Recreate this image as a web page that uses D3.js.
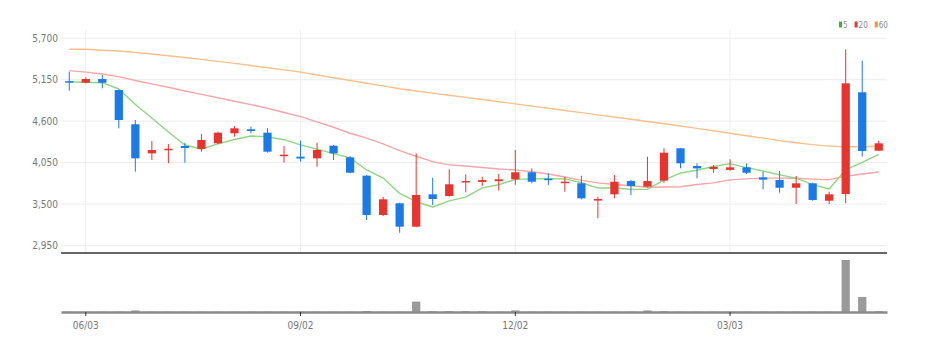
<!DOCTYPE html>
<html>
<head>
<meta charset="utf-8">
<script src="https://cdn.jsdelivr.net/npm/d3@7"></script>
<style>
  html, body { margin: 0; padding: 0; background: #fff; }
  svg { display: block; font-family: "Liberation Sans Narrow", "DejaVu Sans Condensed", "Roboto", sans-serif; }
</style>
</head>
<body>
<svg id="chart" width="928" height="351"></svg>
<script>
// weekly candles, 2024-05-27 .. 2025-05-05
const weeks = ["05/27","06/03","06/10","06/17","06/24","07/01","07/08","07/15","07/22","07/29",
  "08/05","08/12","08/19","08/26","09/02","09/09","09/16","09/23","09/30","10/07",
  "10/14","10/21","10/28","11/04","11/11","11/18","11/25","12/02","12/09","12/16",
  "12/23","12/30","01/06","01/13","01/20","01/27","02/03","02/10","02/17","02/24",
  "03/03","03/10","03/17","03/24","03/31","04/07","04/14","04/21","04/28","05/05"];
const tickWeeks = ["06/03", "09/02", "12/02", "03/03"];
const priceTicks = [2950, 3500, 4050, 4600, 5150, 5700];

const open = [5130,5110,5159,5013,4559,4174,4225,4271,4232,4307,4440,4493,4448,4140,4130,4108,4275,4121,3878,3357,
  3512,3202,3631,3609,3790,3795,3805,3830,3923,3838,3780,3777,3548,3631,3807,3732,3812,4241,4006,3965,
  3955,3989,3856,3821,3718,3777,3546,3635,4983,4209];
const high = [5256,5182,5212,5020,4616,4338,4298,4315,4430,4461,4536,4527,4506,4271,4342,4315,4284,4139,3887,3599,
  3520,4174,3851,3962,3896,3864,3900,4218,3975,3909,3864,3878,3599,3887,3821,4130,4241,4241,4042,4019,
  4095,4042,3931,3940,3874,3785,3666,5553,5402,4342];
const low = [5004,5102,5036,4506,3931,4086,4042,4050,4196,4298,4394,4440,4183,4050,4063,3997,4086,3909,3290,3343,
  3122,3194,3489,3599,3657,3741,3679,3759,3777,3755,3666,3565,3313,3578,3622,3724,3785,3975,3843,3917,
  3944,3900,3697,3652,3503,3546,3503,3512,4130,4205];
const close = [5115,5159,5110,4616,4108,4218,4235,4245,4351,4448,4506,4470,4196,4156,4105,4218,4174,3917,3357,3565,
  3202,3622,3569,3764,3807,3820,3830,3923,3798,3825,3798,3578,3569,3798,3741,3807,4183,4042,3975,3995,
  3989,3917,3825,3718,3777,3556,3631,5102,4205,4307];
const volume = [0.5,0.5,0.5,0.5,3,0.5,0.5,0.5,0.5,0.5,0.5,0.5,0.5,0.5,0.5,0.5,0.5,0.5,2,0.5,
  0.5,20,1.5,1.5,1.5,1.5,0.5,3,0.5,0.5,0.5,0.5,0.5,0.5,0.5,3,1.5,0.5,0.5,0.5,
  0.5,0.5,0.5,0.5,0.5,0.5,0.5,100,29,1.5];

// moving averages as drawn
const ma5 = [5123,5116,5110,5027,4822,4642,4457,4284,4231,4299,4357,4404,4394,4355,4287,4229,4170,4114,3954,3846,
  3643,3533,3463,3544,3593,3716,3758,3829,3836,3839,3835,3784,3714,3714,3697,3699,3820,3914,3950,4000,
  4037,3984,3940,3889,3845,3759,3701,3957,4054,4160];
const ma20 = [5270,5250,5225,5190,5140,5095,5050,5000,4955,4910,4865,4820,4771,4715,4660,4590,4520,4440,4375,4300,
  4210,4135,4064,4021,4006,3986,3966,3955,3930,3900,3860,3815,3782,3762,3744,3725,3728,3732,3761,3782,
  3822,3836,3845,3845,3843,3832,3825,3870,3900,3926];
const ma60 = [5553,5553,5540,5530,5512,5490,5468,5445,5420,5393,5366,5338,5308,5280,5250,5212,5175,5140,5103,5068,
  5030,5000,4972,4944,4916,4887,4858,4830,4800,4772,4742,4713,4684,4655,4625,4596,4566,4536,4505,4473,
  4441,4408,4375,4343,4315,4290,4270,4262,4262,4268];

const UP = "#e8342f", DOWN = "#1c7ae6";
const maSeries = [
  { name: "5", values: ma5, line: "#8ed683", key: "#35b535" },
  { name: "20", values: ma20, line: "#f5a6a6", key: "#e8342f" },
  { name: "60", values: ma60, line: "#f9c08e", key: "#f39332" },
];

const svg = d3.select("#chart");
const plot = { left: 61, right: 887, top: 30, sep: 253, bottom: 312 };
const idx = d3.range(weeks.length);

const x = d3.scaleBand().domain(idx).range([plot.left, plot.right]).paddingInner(0.5).paddingOuter(0.25);
const cx = (i) => x(i) + x.bandwidth() / 2;
const y = d3.scaleLinear().domain([2950, 5700]).range([245.7, 38.2]);
const yVol = d3.scaleLinear().domain([0, 100]).range([plot.bottom, 260]);

// grid
svg.append("g").selectAll("line").data(priceTicks).join("line")
  .attr("x1", plot.left).attr("x2", plot.right)
  .attr("y1", (d) => y(d)).attr("y2", (d) => y(d))
  .attr("stroke", "#ececec").attr("stroke-width", 1);

svg.append("g").selectAll("line").data(tickWeeks).join("line")
  .attr("x1", (d) => cx(weeks.indexOf(d))).attr("x2", (d) => cx(weeks.indexOf(d)))
  .attr("y1", plot.top).attr("y2", plot.sep)
  .attr("stroke", "#eeeeee").attr("stroke-width", 1);

// y labels
svg.append("g").selectAll("text").data(priceTicks).join("text")
  .attr("x", 58).attr("y", (d) => y(d)).attr("dy", "0.35em")
  .attr("text-anchor", "end").attr("font-size", 10).attr("fill", "#777")
  .text((d) => d3.format(",")(d));

// moving averages
const line = d3.line().x((d, i) => cx(i)).y((d) => y(d));
maSeries.slice().reverse().forEach((s) => {
  svg.append("path").attr("fill", "none").attr("stroke", s.line)
    .attr("stroke-width", 1.4).attr("stroke-linejoin", "round").attr("d", line(s.values));
});

// candles
const candles = svg.append("g").selectAll("g").data(idx).join("g")
  .attr("fill", (i) => (close[i] >= open[i] ? UP : DOWN))
  .attr("stroke", (i) => (close[i] >= open[i] ? UP : DOWN));

candles.append("line")
  .attr("x1", (i) => cx(i)).attr("x2", (i) => cx(i))
  .attr("y1", (i) => y(high[i])).attr("y2", (i) => y(low[i]))
  .attr("stroke-width", 1);

candles.append("rect")
  .attr("x", (i) => x(i)).attr("width", x.bandwidth())
  .attr("y", (i) => y(Math.max(open[i], close[i])))
  .attr("height", (i) => Math.max(1.5, Math.abs(y(open[i]) - y(close[i]))))
  .attr("stroke", "none");

// separator
svg.append("line").attr("x1", plot.left).attr("x2", plot.right)
  .attr("y1", plot.sep).attr("y2", plot.sep).attr("stroke", "#333").attr("stroke-width", 1.5);

// volume
svg.append("g").selectAll("rect").data(idx).join("rect")
  .attr("x", (i) => x(i)).attr("width", x.bandwidth())
  .attr("y", (i) => yVol(volume[i])).attr("height", (i) => plot.bottom - yVol(volume[i]))
  .attr("fill", "#9a9a9a");

// x axis
const xAxis = svg.append("g").attr("transform", `translate(0, ${plot.bottom})`)
  .call(d3.axisBottom(x).tickValues(tickWeeks.map((d) => weeks.indexOf(d)))
    .tickFormat((i) => weeks[i]).tickSize(4).tickSizeOuter(0));
xAxis.select(".domain").attr("stroke", "#8a8a8a").attr("stroke-width", 2.5);
xAxis.selectAll(".tick line").attr("stroke", "#333");
xAxis.selectAll(".tick text").attr("font-size", 10).attr("fill", "#777")
  .attr("font-family", "Liberation Sans Narrow, DejaVu Sans Condensed, sans-serif").attr("dy", "0.95em");

// legend
const legend = svg.append("g").attr("transform", "translate(839, 21)");
let lx = 0;
maSeries.forEach((s) => {
  legend.append("rect").attr("x", lx).attr("y", 0.5).attr("width", 3).attr("height", 6).attr("fill", s.key);
  const t = legend.append("text").attr("x", lx + 4).attr("y", 6.5)
    .attr("font-size", 8).attr("fill", "#888").text(s.name);
  lx += 4 + t.node().getComputedTextLength() + 7;
});
</script>
</body>
</html>
